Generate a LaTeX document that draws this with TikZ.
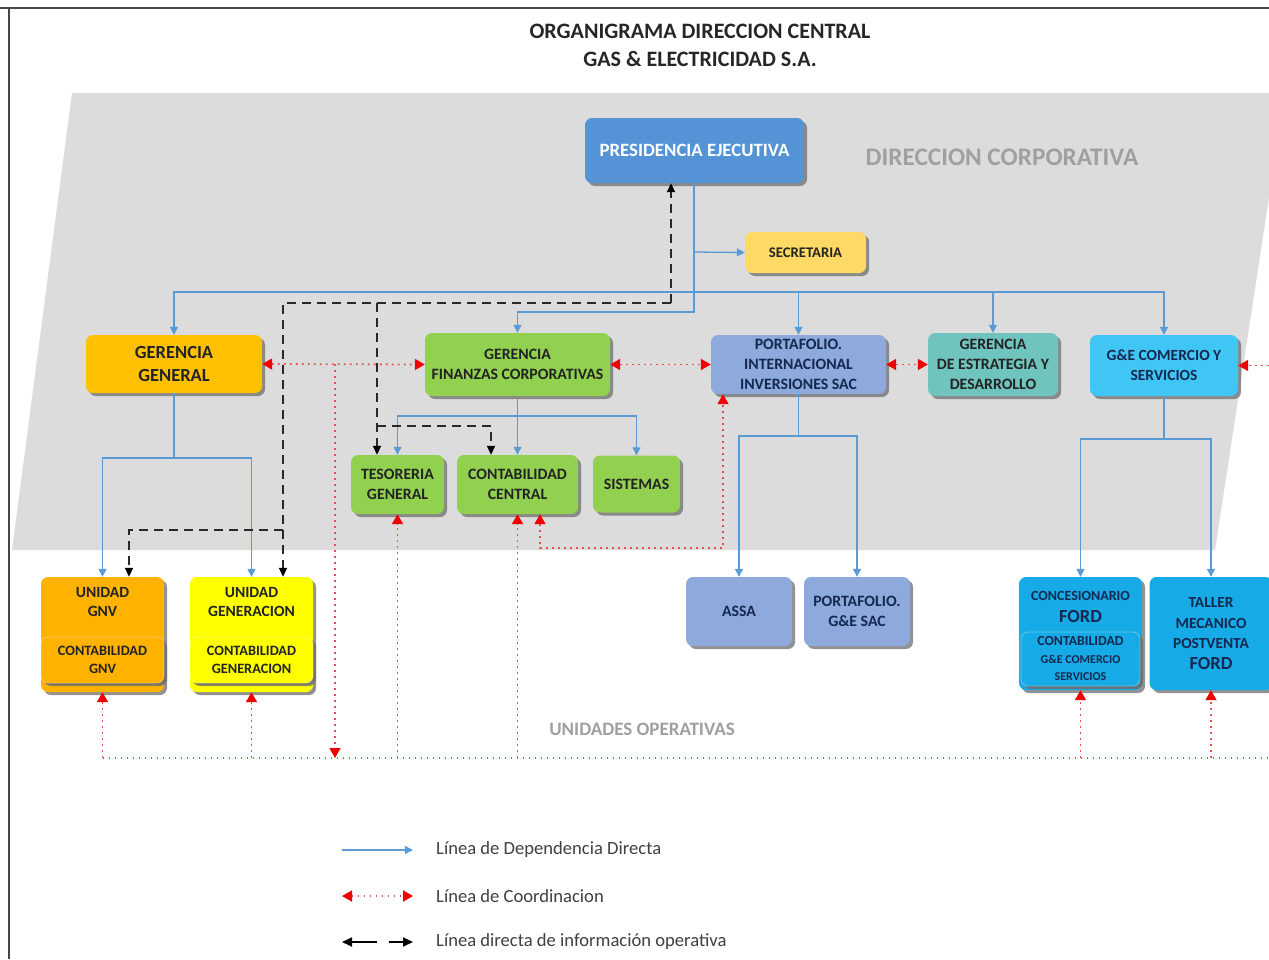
\documentclass[tikz,border=0pt]{standalone}
\usepackage{fontspec}
\setmainfont{Carlito}
\usetikzlibrary{arrows.meta,shadows}
\definecolor{bgc}{RGB}{220,220,220}
\definecolor{framec}{RGB}{70,70,70}
\definecolor{depc}{RGB}{91,155,213}
\definecolor{presc}{RGB}{84,148,214}
\definecolor{secc}{RGB}{255,217,102}
\definecolor{ggc}{RGB}{255,192,0}
\definecolor{greenc}{RGB}{146,208,80}
\definecolor{lavc}{RGB}{142,169,219}
\definecolor{tealc}{RGB}{112,196,190}
\definecolor{gesc}{RGB}{64,198,245}
\definecolor{fordc}{RGB}{22,170,230}
\definecolor{gnvc}{RGB}{255,179,0}
\definecolor{genc}{RGB}{255,255,0}
\definecolor{txtc}{RGB}{35,35,35}
\definecolor{navyc}{RGB}{20,40,80}
\definecolor{greyt}{RGB}{160,160,160}
\definecolor{legt}{RGB}{64,64,64}
\definecolor{dotc}{RGB}{228,80,80}
\definecolor{arrred}{RGB}{240,0,0}
\definecolor{infoc}{RGB}{40,40,40}
\definecolor{shadc}{RGB}{110,110,110}
\tikzset{
  box/.style={rounded corners=7pt, inner sep=0pt, align=center, text=txtc,
    font=\bfseries\fontsize{15.8}{20}\selectfont,
    drop shadow={shadow xshift=3pt, shadow yshift=-3pt, fill=shadc, opacity=.75}},
  innerbox/.style={box, draw=white, draw opacity=.35, line width=.8pt,
    drop shadow={shadow xshift=2pt, shadow yshift=-2pt, fill=shadc, opacity=.6}},
  lbl/.style={inner sep=0pt, align=center, text=txtc},
  dep/.style={draw=depc, line width=1.3pt, -{Triangle[width=8pt,length=8pt]}},
  coordl/.style={draw=dotc, line width=1.8pt, dash pattern=on 1.8pt off 4.2pt,
    arrows={-{Triangle[width=11pt,length=10pt,color=arrred]}}},
  coordb/.style={coordl, arrows={{Triangle[width=11pt,length=10pt,color=arrred]}-{Triangle[width=11pt,length=10pt,color=arrred]}}},
  coordn/.style={draw=dotc, line width=1.8pt, dash pattern=on 1.8pt off 4.2pt},
  info/.style={draw=infoc, line width=1.8pt, dash pattern=on 9pt off 6pt,
    -{Triangle[width=8pt,length=9pt,color=black]}},
  legtxt/.style={lbl, anchor=west, text=legt, font=\fontsize{18.6}{20}\selectfont},
}
\begin{document}
\begin{tikzpicture}[x=1pt,y=-1pt]
\useasboundingbox (0,0) rectangle (1269,959);
\clip (0,0) rectangle (1269,959);
\fill[white] (0,0) rectangle (1269,959);
% grey corporate band
\fill[bgc] (72,93) -- (1285,93) -- (1215,550) -- (12,550) -- cycle;
% frame
\draw[framec, line width=1.6pt] (0,8) -- (1269,8);
\draw[framec, line width=1.4pt] (9,8) -- (9,959);

% titles
\node[lbl, font=\bfseries\fontsize{22}{24}\selectfont, text=black!85] (t1) at (700,31) {ORGANIGRAMA DIRECCION CENTRAL};
\node[lbl, font=\bfseries\fontsize{22}{24}\selectfont, text=black!85] (t2) at (700,59) {GAS \& ELECTRICIDAD S.A.};
\node[lbl, font=\bfseries\fontsize{25.3}{27}\selectfont, text=greyt] (dc) at (1002,157) {DIRECCION CORPORATIVA};
\node[lbl, font=\bfseries\fontsize{19}{21}\selectfont, text=greyt] (uo) at (642,729) {UNIDADES OPERATIVAS};

% boxes
\node[box, fill=presc, text=white, minimum width=219pt, minimum height=65pt,
  font=\bfseries\fontsize{18.8}{20}\selectfont] (pres) at (694.5,150.5) {PRESIDENCIA EJECUTIVA};
\node[box, fill=secc, minimum width=121pt, minimum height=41pt,
  font=\bfseries\fontsize{14.7}{16}\selectfont] (sec) at (805.5,252.5) {SECRETARIA};
\node[box, fill=ggc, minimum width=176pt, minimum height=58pt,
  font=\bfseries\fontsize{18.5}{23}\selectfont] (gg) at (174,364) {GERENCIA\\GENERAL};
\node[box, fill=greenc, minimum width=185pt, minimum height=63pt] (fin) at (517.5,364.5) {GERENCIA\\FINANZAS CORPORATIVAS};
\node[box, fill=lavc, text=navyc, minimum width=175pt, minimum height=59pt] (pint) at (798.5,364.5) {PORTAFOLIO.\\INTERNACIONAL\\INVERSIONES SAC};
\node[box, fill=tealc, minimum width=130pt, minimum height=63pt] (est) at (993,364.5) {GERENCIA\\DE ESTRATEGIA Y\\DESARROLLO};
\node[box, fill=gesc, text=navyc, minimum width=148pt, minimum height=61pt,
  font=\bfseries\fontsize{15.5}{20}\selectfont] (ges) at (1164,365.5) {G\&E COMERCIO Y\\SERVICIOS};
\node[box, fill=greenc, minimum width=93pt, minimum height=59pt] (tes) at (397.5,484.5) {TESORERIA\\GENERAL};
\node[box, fill=greenc, minimum width=121pt, minimum height=59pt] (cc) at (517.5,484.5) {CONTABILIDAD\\CENTRAL};
\node[box, fill=greenc, minimum width=87pt, minimum height=57pt] (sis) at (636.5,484) {SISTEMAS};

% operating units
\node[box, fill=gnvc, minimum width=123pt, minimum height=115pt] (gnv) at (102.5,634.5) {};
\node[lbl, font=\bfseries\fontsize{15.6}{19}\selectfont] (gnvt) at (102.5,601.5) {UNIDAD\\GNV};
\node[innerbox, fill=gnvc, minimum width=123pt, minimum height=46pt,
  font=\bfseries\fontsize{14.3}{18}\selectfont] (gnvk) at (102.5,660) {CONTABILIDAD\\GNV};
\node[box, fill=genc, minimum width=123pt, minimum height=115pt] (gen) at (251.5,634.5) {};
\node[lbl, font=\bfseries\fontsize{15.6}{19}\selectfont] (gent) at (251.5,601.5) {UNIDAD\\GENERACION};
\node[innerbox, fill=genc, minimum width=123pt, minimum height=46pt,
  font=\bfseries\fontsize{14.3}{18}\selectfont] (genk) at (251.5,660) {CONTABILIDAD\\GENERACION};
\node[box, fill=lavc, text=navyc, minimum width=106pt, minimum height=69pt] (assa) at (739,611.5) {ASSA};
\node[box, fill=lavc, text=navyc, minimum width=106pt, minimum height=69pt] (pgs) at (857,611.5) {PORTAFOLIO.\\G\&E SAC};
\node[box, fill=fordc, minimum width=123pt, minimum height=113pt] (con) at (1080.5,633.5) {};
\node[lbl, text=navyc, font=\bfseries\fontsize{14}{22}\selectfont] (cont) at (1080.5,607) {CONCESIONARIO\\{\fontsize{18.5}{22}\selectfont FORD}};
\node[innerbox, fill=fordc, text=navyc, minimum width=119pt, minimum height=54pt,
  font=\bfseries\fontsize{12}{17.5}\selectfont] (conk) at (1080.5,659) {{\fontsize{13.8}{17}\selectfont CONTABILIDAD}\\G\&E COMERCIO\\SERVICIOS};
\node[box, fill=fordc, text=navyc, minimum width=123pt, minimum height=113pt,
  font=\bfseries\fontsize{15.4}{20.5}\selectfont] (tal) at (1211,633.5) {TALLER\\MECANICO\\POSTVENTA\\{\fontsize{18.5}{20}\selectfont FORD}};

% ---- direct dependency lines
\coordinate (js) at (694,252);
\coordinate (jp) at (694,292);
\coordinate (jf) at (694,312);
\draw[dep] (pres.south -| jp) -- (jf) -| (fin.north);
\draw[dep] (js) -- (sec.west);
\draw[dep] (jp) -| (gg.north);
\draw[dep] (jp) -| (pint.north);
\draw[dep] (jp) -| (est.north);
\draw[dep] (jp) -| (ges.north);
\coordinate (jg) at (174,458);
\draw[dep] (gg.south) -- (jg) -| (gnv.north);
\draw[dep] (jg) -| (gen.north);
\coordinate (jfi) at (517.5,416);
\draw[dep] (fin.south) -- (cc.north);
\draw[dep] (jfi) -| (tes.north);
\draw[dep] (jfi) -| (sis.north);
\coordinate (jpi) at (798.5,436);
\draw[dep] (pint.south) -- (jpi) -| (assa.north);
\draw[dep] (jpi) -| (pgs.north);
\coordinate (jgs) at (1164,439);
\draw[dep] (ges.south) -- (jgs) -| (con.north);
\draw[dep] (jgs) -| (tal.north);

% ---- operative information lines
\coordinate (iA) at (671,303);
\coordinate (iB) at (283,303);
\coordinate (iC) at (283,530);
\coordinate (iD) at (129,530);
\coordinate (iE) at (377,303);
\coordinate (iF) at (377,426);
\coordinate (iG) at (491,426);
\draw[info] (iA) -- (pres.south -| iA);
\draw[info] (iA) -- (iB) -- (gen.north -| iB);
\draw[info] (iC) -- (iD) -- (gnv.north -| iD);
\draw[info] (iE) -- (tes.north -| iE);
\draw[info] (iF) -- (iG) -- (cc.north -| iG);

% ---- coordination lines
\draw[coordb] (gg.east) -- (fin.west);
\draw[coordb] (fin.east) -- (pint.west);
\draw[coordb] (pint.east) -- (est.west);
\coordinate (rR) at (1275,365.5);
\draw[coordl] (rR) -- (ges.east);
\coordinate (r1) at (335,364);
\coordinate (bl) at (335,758);
\draw[coordl] (r1) -- (bl);
\coordinate (bR) at (1275,758);
\draw[coordn] (gnv.south |- bl) -- (bR);
\draw[coordl] (gnv.south |- bl) -- (gnv.south);
\draw[coordl] (gen.south |- bl) -- (gen.south);
\draw[coordl] (tes.south |- bl) -- (tes.south);
\draw[coordl] (cc.south |- bl) -- (cc.south);
\draw[coordl] (con.south |- bl) -- (con.south);
\draw[coordl] (tal.south |- bl) -- (tal.south);
\coordinate (r3) at (540,548);
\coordinate (r4) at (723,548);
\draw[coordb] (cc.south -| r3) -- (r3) -- (r4) -- (pint.south -| r4);

% ---- legend
\coordinate (l1a) at (342,850); \coordinate (l1b) at (413,850);
\coordinate (l2a) at (342,896); \coordinate (l2b) at (413,896);
\coordinate (l3a) at (342,942); \coordinate (l3b) at (413,942);
\draw[dep] (l1a) -- (l1b);
\draw[coordb] (l2a) -- (l2b);
\draw[draw=black, line width=1.8pt, dash pattern=on 25pt off 12pt,
  {Triangle[width=9pt,length=10pt]}-{Triangle[width=9pt,length=10pt]}] (l3a) -- (l3b);
\node[legtxt] (lg1) at (436,850) {Línea de Dependencia Directa};
\node[legtxt] (lg2) at (436,896) {Línea de Coordinacion};
\node[legtxt] (lg3) at (436,942) {Línea directa de información operativa};
\end{tikzpicture}
\end{document}
